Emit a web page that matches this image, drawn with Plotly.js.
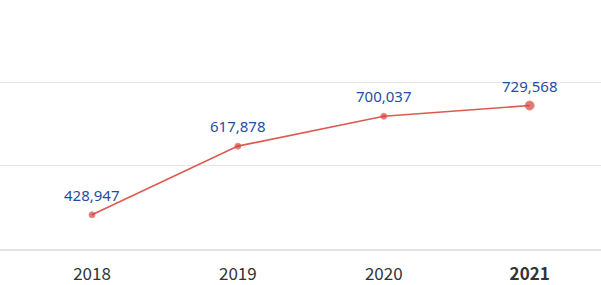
<!DOCTYPE html>
<html>
<head>
<meta charset="utf-8">
<script src="https://cdn.plot.ly/plotly-3.0.1.min.js"></script>
<style>
html,body{margin:0;padding:0;background:#fff;}
#chart{width:601px;height:285px;}
</style>
</head>
<body>
<div id="chart"></div>
<script>
const years = ['2018', '2019', '2020', '2021'];
const values = [428947, 617878, 700037, 729568];
const labels = values.map(v => v.toLocaleString('en-US'));
const markerSizes = years.map((y, i) => i === years.length - 1 ? 9 : 6);
const tickText = years.map((y, i) => i === years.length - 1 ? '<b>' + y + '</b>' : y);

const trace = {
  x: years,
  y: values,
  type: 'scatter',
  mode: 'lines+markers',
  line: {color: '#dc5a50', width: 1.6},
  marker: {color: '#d04238', size: markerSizes},
  hoverinfo: 'none'
};

const annotations = years.map((y, i) => ({
  xref: 'x',
  yref: 'y',
  x: i,
  y: values[i],
  text: labels[i],
  showarrow: false,
  yshift: 20,
  font: {family: 'Noto Sans, sans-serif', size: 15, color: '#1d4fa3'}
}));

const layout = {
  width: 601,
  height: 285,
  margin: {l: 0, r: 0, t: 0, b: 36},
  paper_bgcolor: '#ffffff',
  plot_bgcolor: '#ffffff',
  showlegend: false,
  annotations: annotations,
  xaxis: {
    type: 'category',
    range: [-0.6306, 3.489],
    tickvals: years,
    ticktext: tickText,
    showgrid: false,
    zeroline: false,
    showline: true,
    linecolor: '#e3e3e3',
    linewidth: 2,
    ticks: '',
    ticklabelstandoff: 9,
    tickfont: {family: 'Noto Sans CJK KR, Noto Sans, sans-serif', size: 17, color: '#333333'}
  },
  yaxis: {
    range: [334860, 1019900],
    tick0: 334860,
    dtick: 229300,
    showgrid: true,
    gridcolor: '#e6e6e6',
    gridwidth: 1,
    zeroline: false,
    showticklabels: false,
    ticks: ''
  }
};

Plotly.newPlot('chart', [trace], layout, {displayModeBar: false});
</script>
</body>
</html>
